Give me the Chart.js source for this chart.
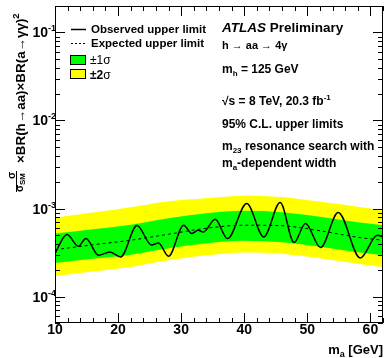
<!DOCTYPE html>
<html>
<head>
<meta charset="utf-8">
<script src="https://cdn.jsdelivr.net/npm/chart.js@4.4.0/dist/chart.umd.min.js"></script>
<style>
  html, body { margin: 0; padding: 0; background: #fff; }
  #wrap { width: 385px; height: 358px; }
</style>
</head>
<body>
<div id="wrap"><canvas id="limitChart" width="385" height="358"></canvas></div>
<script>
// m_a points (GeV) where expected limit and bands were read
const massBand = [10, 16, 22, 28, 34, 40, 46, 52, 58, 62];
const expected = [3.40e-4, 3.87e-4, 4.36e-4, 5.10e-4, 5.97e-4, 6.46e-4, 6.37e-4, 5.58e-4, 4.71e-4, 4.36e-4];
const plus1 = [5.19e-4, 5.81e-4, 6.53e-4, 7.76e-4, 8.84e-4, 9.44e-4, 9.08e-4, 8.07e-4, 6.98e-4, 6.46e-4];
const minus1 = [2.41e-4, 2.68e-4, 2.98e-4, 3.53e-4, 4.03e-4, 4.30e-4, 4.13e-4, 3.67e-4, 3.18e-4, 2.94e-4];
const plus2 = [7.85e-4, 8.98e-4, 1.03e-3, 1.21e-3, 1.31e-3, 1.40e-3, 1.35e-3, 1.19e-3, 1.05e-3, 9.57e-4];
const minus2 = [1.71e-4, 1.93e-4, 2.17e-4, 2.58e-4, 2.94e-4, 3.17e-4, 3.06e-4, 2.72e-4, 2.35e-4, 2.16e-4];

// observed limit (turning points)
const massObs = [10, 11.9, 13.7, 14.9, 16.9, 18.7, 20.4, 23.0, 25.3, 26.4, 28.0, 30.4, 31.7, 32.7, 33.5,
  35.4, 37.35, 40.4, 43.1, 45.7, 47.9, 49.7, 52.1, 54.9, 58.4, 61.1, 62];
const observed = [3.1e-4, 5.06e-4, 3.72e-4, 4.55e-4, 2.94e-4, 3.21e-4, 2.81e-4, 6.40e-4, 3.85e-4, 4.05e-4, 2.86e-4,
  6.46e-4, 5.19e-4, 5.66e-4, 5.41e-4, 7.55e-4, 4.55e-4, 1.14e-3, 4.75e-4, 1.17e-3, 4.10e-4, 6.75e-4, 3.60e-4,
  9.0e-4, 2.74e-4, 4.97e-4, 4.75e-4];

const xTicks = [10, 20, 30, 40, 50, 60];
const yTicks = [1e-4, 1e-3, 1e-2, 1e-1];
const yTickExp = ['-4', '-3', '-2', '-1'];

const FAM = '"Liberation Sans", Arial, "DejaVu Sans", sans-serif';
function font(p) { return (p[3] || 'bold') + ' ' + p[1] + 'px ' + FAM; }

// draw a run of text pieces [text, size, dy, style]
function rich(ctx, x, y, parts, align) {
  let w = 0;
  parts.forEach(p => { ctx.font = font(p); w += ctx.measureText(p[0]).width; });
  let cx = align === 'right' ? x - w : x;
  parts.forEach(p => {
    ctx.font = font(p);
    ctx.fillText(p[0], cx, y + (p[2] || 0));
    cx += ctx.measureText(p[0]).width;
  });
  return w;
}

function seg(ctx, x1, y1, x2, y2) {
  ctx.beginPath(); ctx.moveTo(x1, y1); ctx.lineTo(x2, y2); ctx.stroke();
}

const frame = {
  id: 'frame',
  afterDraw(chart) {
    const { ctx, chartArea: a, scales: { x, y } } = chart;
    ctx.save();
    ctx.strokeStyle = '#000';
    ctx.fillStyle = '#000';
    ctx.lineWidth = 1;
    ctx.strokeRect(a.left + 0.5, a.top + 0.5, a.right - a.left - 1, a.bottom - a.top - 1);

    // x ticks, every 2 GeV, major every 10
    for (let m = 10; m <= 62; m += 2) {
      const px = Math.round(x.getPixelForValue(m)) + 0.5;
      const len = m % 10 === 0 ? 10 : 5;
      seg(ctx, px, a.bottom, px, a.bottom - len);
      seg(ctx, px, a.top, px, a.top + len);
    }
    // y ticks (log)
    for (let d = -5; d <= -1; d++) {
      for (let k = 1; k <= 9; k++) {
        const v = k * Math.pow(10, d);
        if (v < y.min || v > y.max) continue;
        const py = Math.round(y.getPixelForValue(v)) + 0.5;
        const len = k === 1 ? 10 : 5;
        seg(ctx, a.left, py, a.left + len, py);
        seg(ctx, a.right, py, a.right - len, py);
      }
    }

    // x tick labels
    ctx.textAlign = 'center';
    ctx.textBaseline = 'alphabetic';
    ctx.font = font(['', 14]);
    xTicks.forEach(m => ctx.fillText(String(m), x.getPixelForValue(m), 334));
    ctx.textAlign = 'left';

    // y tick labels 10^n
    yTicks.forEach((v, i) => {
      const py = y.getPixelForValue(v);
      ctx.font = font(['', 14]);
      const w10 = ctx.measureText('10').width;
      ctx.fillText('10', 48 - w10, py + 5);
      ctx.font = font(['', 9]);
      ctx.fillText(yTickExp[i], 48, py - 1);
    });

    // x title
    rich(ctx, 383, 354, [['m', 13], ['a', 9, 3], [' [GeV]', 13]], 'right');

    // y title, rotated
    ctx.save();
    ctx.translate(25, 192);
    ctx.rotate(-Math.PI / 2);
    ctx.font = font(['', 10.5]);
    ctx.fillText('\u03c3', 13, -10.5);
    ctx.lineWidth = 1;
    seg(ctx, 0, -8.5, 21, -8.5);
    ctx.fillText('\u03c3', 0, -2);
    ctx.font = font(['', 8]);
    ctx.fillText('SM', 7, 0);
    rich(ctx, 29, 0, [['\u00d7BR(h\u2192aa)\u00d7BR(a\u2192\u03b3\u03b3)', 13.4], ['2', 9.5, -6.5]]);
    ctx.restore();

    // legend
    ctx.lineWidth = 1.5;
    seg(ctx, 71, 29.5, 86, 29.5);
    ctx.lineWidth = 1;
    ctx.setLineDash([2, 2]);
    seg(ctx, 71, 43.5, 86, 43.5);
    ctx.setLineDash([]);
    ctx.fillStyle = '#00ff00';
    ctx.fillRect(70.5, 55.5, 15, 9);
    ctx.strokeRect(70.5, 55.5, 15, 9);
    ctx.fillStyle = '#ffff00';
    ctx.fillRect(70.5, 69.5, 15, 9);
    ctx.strokeRect(70.5, 69.5, 15, 9);
    ctx.fillStyle = '#000';
    rich(ctx, 91, 33, [['Observed upper limit', 11.5]]);
    rich(ctx, 91, 47, [['Expected upper limit', 11.5]]);
    rich(ctx, 90, 64, [['\u00b11\u03c3', 12, 0, 'normal']]);
    rich(ctx, 90, 78.5, [['\u00b12', 12, 0, 'bold'], ['\u03c3', 12, 0, 'normal']]);

    // ATLAS label and info
    const tx = 222;
    rich(ctx, tx, 32, [['ATLAS', 13.5, 0, 'italic bold'], [' Preliminary', 13.5]]);
    rich(ctx, tx, 49, [['h \u2192 aa \u2192 4\u03b3', 11]]);
    rich(ctx, tx, 73, [['m', 12], ['h', 8, 3], [' = 125 GeV', 12]]);
    rich(ctx, tx, 105, [['\u221as = 8 TeV, 20.3 fb', 12], ['-1', 8, -5]]);
    rich(ctx, tx, 128, [['95% C.L. upper limits', 12]]);
    rich(ctx, tx, 150, [['m', 12], ['23', 8, 3], [' resonance search with', 12]]);
    rich(ctx, tx, 166.5, [['m', 12], ['a', 8, 3], ['-dependent width', 12]]);
    ctx.restore();
  }
};

const toXY = (xs, ys) => xs.map((m, i) => ({ x: m, y: ys[i] }));
const band = { pointRadius: 0, borderWidth: 0, borderColor: 'rgba(0,0,0,0)', cubicInterpolationMode: 'monotone' };

const ctx = document.getElementById('limitChart').getContext('2d');
new Chart(ctx, {
  type: 'line',
  data: {
    datasets: [
      { label: 'Observed upper limit', data: toXY(massObs, observed), borderColor: '#000', borderWidth: 1.5,
        pointRadius: 0, fill: false, cubicInterpolationMode: 'monotone' },
      { label: 'Expected upper limit', data: toXY(massBand, expected), borderColor: '#000', borderWidth: 1,
        borderDash: [3, 3], pointRadius: 0, fill: false, cubicInterpolationMode: 'monotone' },
      Object.assign({ label: '\u00b11\u03c3', data: toXY(massBand, plus1), backgroundColor: '#00ff00', fill: 3 }, band),
      Object.assign({ label: '-1\u03c3', data: toXY(massBand, minus1), fill: false }, band),
      Object.assign({ label: '\u00b12\u03c3', data: toXY(massBand, plus2), backgroundColor: '#ffff00', fill: 5 }, band),
      Object.assign({ label: '-2\u03c3', data: toXY(massBand, minus2), fill: false }, band)
    ]
  },
  options: {
    responsive: false,
    animation: false,
    layout: { padding: { left: 55, right: 2, top: 6, bottom: 35 } },
    scales: {
      x: { type: 'linear', min: 10, max: 62, display: false },
      y: { type: 'logarithmic', min: 5e-5, max: 0.2, display: false }
    },
    plugins: { legend: { display: false }, tooltip: { enabled: false } }
  },
  plugins: [frame]
});
</script>
</body>
</html>
